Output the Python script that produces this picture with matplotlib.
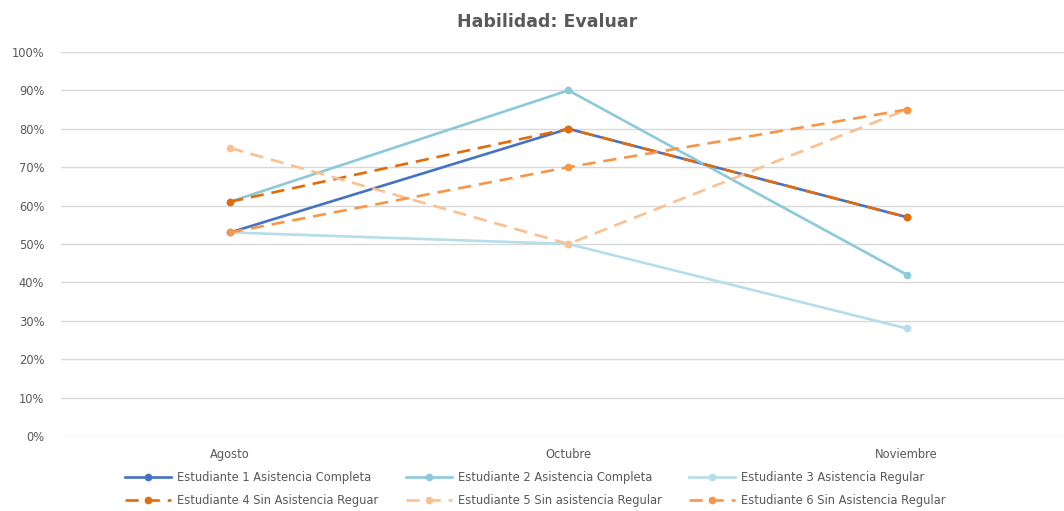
import matplotlib.pyplot as plt
from matplotlib.ticker import PercentFormatter

plt.rcParams['font.family'] = ['DejaVu Sans']

# Datos
meses = ['Agosto', 'Octubre', 'Noviembre']
nombres = ['Estudiante 1 Asistencia Completa',
           'Estudiante 2 Asistencia Completa',
           'Estudiante 3 Asistencia Regular',
           'Estudiante 4 Sin Asistencia Reguar',
           'Estudiante 5 Sin asistencia Regular',
           'Estudiante 6 Sin Asistencia Regular']
est1 = [53, 80, 57]
est2 = [61, 90, 42]
est3 = [53, 50, 28]
est4 = [61, 80, 57]
est5 = [75, 50, 85]
est6 = [53, 70, 85]

series = [est1, est2, est3, est4, est5, est6]
colores = ['#4472C4', '#8CC9DA', '#B5DEE8', '#E26B0A', '#FAC090', '#F79646']
estilos = ['-', '-', '-', '--', '--', '--']

fig = plt.figure(figsize=(10.64, 5.11), dpi=100)
ax = fig.add_axes([0.0573, 0.1468, 0.9427, 0.7515])

x = range(len(meses))
lineas = []
for vals, nombre, c, ls in zip(series, nombres, colores, estilos):
    ln, = ax.plot(x, vals, color=c, linestyle=ls, linewidth=1.9,
                  marker='o', markersize=4.5, label=nombre,
                  dashes=(5, 3) if ls == '--' else (None, None))
    lineas.append(ln)

ax.set_xlim(-0.5, 2.465)
ax.set_ylim(0, 100)
ax.set_yticks(range(0, 101, 10))
ax.yaxis.set_major_formatter(PercentFormatter(decimals=0))
ax.set_xticks(list(x))
ax.set_xticklabels(meses)
ax.tick_params(length=0, labelsize=8.3, colors='#595959')
ax.tick_params(axis='x', pad=9)
ax.tick_params(axis='y', pad=12)
ax.grid(axis='y', color='#D9D9D9', linewidth=1)
ax.set_axisbelow(True)
for s in ax.spines.values():
    s.set_visible(False)

fig.suptitle('Habilidad: Evaluar', x=0.514, y=0.975, fontsize=12.5,
             color='#595959', fontweight='bold')

# Orden por filas en la leyenda
orden = [0, 3, 1, 4, 2, 5]
fig.legend([lineas[i] for i in orden], [nombres[i] for i in orden],
           loc='lower center', bbox_to_anchor=(0.503, -0.012), ncol=3,
           frameon=False, fontsize=8.3, labelcolor='#595959',
           handlelength=4.0, columnspacing=2.4, handletextpad=0.5,
           labelspacing=0.85)

plt.savefig('out.png', dpi=100)
